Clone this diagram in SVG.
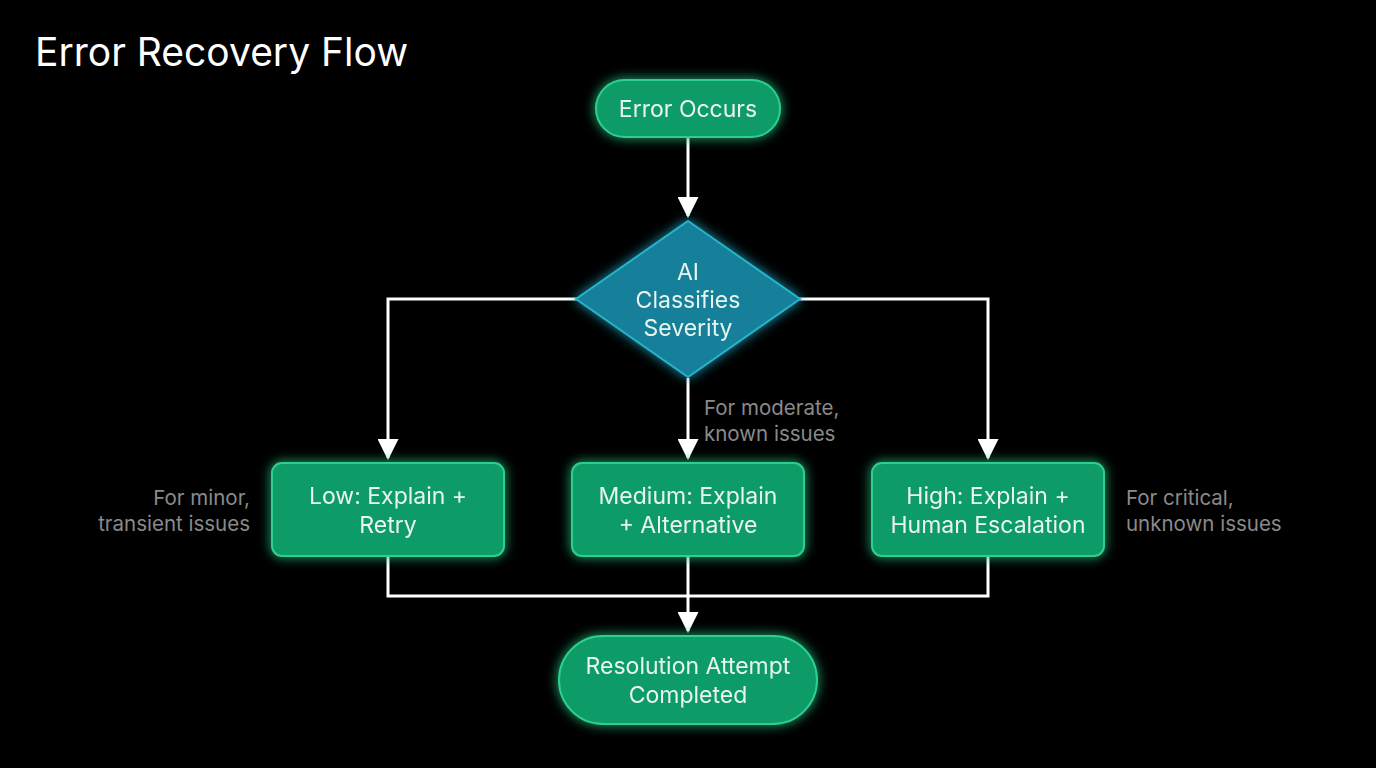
<svg xmlns="http://www.w3.org/2000/svg" width="1376" height="768" viewBox="0 0 1376 768">
<defs>
<style>
text{font-family:Inter,"Liberation Sans",sans-serif;fill:#e8f5ee;text-anchor:middle}
.n{font-size:23px}
.note{font-size:20.5px;fill:#8a8a8a}
.g{fill:#109b68;stroke:#2ecf8c;stroke-width:2}
.d{fill:#137f99;stroke:#25b4cc;stroke-width:2}
.c{fill:none;stroke:#fff;stroke-width:3}
</style>
<filter id="glow" x="-30%" y="-30%" width="160%" height="160%"><feGaussianBlur stdDeviation="6" result="b"/><feMerge><feMergeNode in="b"/><feMergeNode in="SourceGraphic"/></feMerge></filter>
<marker id="ah" viewBox="0 0 10 10" refX="9" refY="5" markerWidth="7" markerHeight="7" orient="auto"><path d="M0,0L10,5L0,10z" fill="#fff"/></marker>
</defs>
<rect width="1376" height="768" fill="#000"/>
<text x="35" y="66" style="font-size:39px;text-anchor:start;fill:#fff">Error Recovery Flow</text>
<g id="connectors">
<path class="c" d="M688,138V216" marker-end="url(#ah)"/>
<path class="c" d="M577,299H388V458" marker-end="url(#ah)"/>
<path class="c" d="M799,299H988V458" marker-end="url(#ah)"/>
<path class="c" d="M688,378V458" marker-end="url(#ah)"/>
<path class="c" d="M388,556V596H988V556"/>
<path class="c" d="M688,556V631" marker-end="url(#ah)"/>
</g>
<g id="n1" filter="url(#glow)"><rect class="g" x="596" y="80" width="184" height="57" rx="28.5"/><text class="n" x="688" y="117">Error Occurs</text></g>
<g id="n2" filter="url(#glow)"><path class="d" d="M688,221L800,299L688,377L576,299Z"/><text class="n" x="688" y="280">AI</text><text class="n" x="688" y="308">Classifies</text><text class="n" x="688" y="336">Severity</text></g>
<g id="n3" filter="url(#glow)"><rect class="g" x="272" y="463" width="232" height="93" rx="10"/><text class="n" x="388" y="504">Low: Explain +</text><text class="n" x="388" y="533">Retry</text></g>
<g id="n4" filter="url(#glow)"><rect class="g" x="572" y="463" width="232" height="93" rx="10"/><text class="n" x="688" y="504">Medium: Explain</text><text class="n" x="688" y="533">+ Alternative</text></g>
<g id="n5" filter="url(#glow)"><rect class="g" x="872" y="463" width="232" height="93" rx="10"/><text class="n" x="988" y="504">High: Explain +</text><text class="n" x="988" y="533">Human Escalation</text></g>
<g id="n6" filter="url(#glow)"><rect class="g" x="559" y="636" width="258" height="88" rx="44"/><text class="n" x="688" y="674">Resolution Attempt</text><text class="n" x="688" y="703">Completed</text></g>
<g id="notes">
<text class="note" x="250" y="505" style="text-anchor:end">For minor,</text>
<text class="note" x="250" y="531" style="text-anchor:end">transient issues</text>
<text class="note" x="704" y="415" style="text-anchor:start">For moderate,</text>
<text class="note" x="704" y="441" style="text-anchor:start">known issues</text>
<text class="note" x="1126" y="505" style="text-anchor:start">For critical,</text>
<text class="note" x="1126" y="531" style="text-anchor:start">unknown issues</text>
</g>
</svg>
